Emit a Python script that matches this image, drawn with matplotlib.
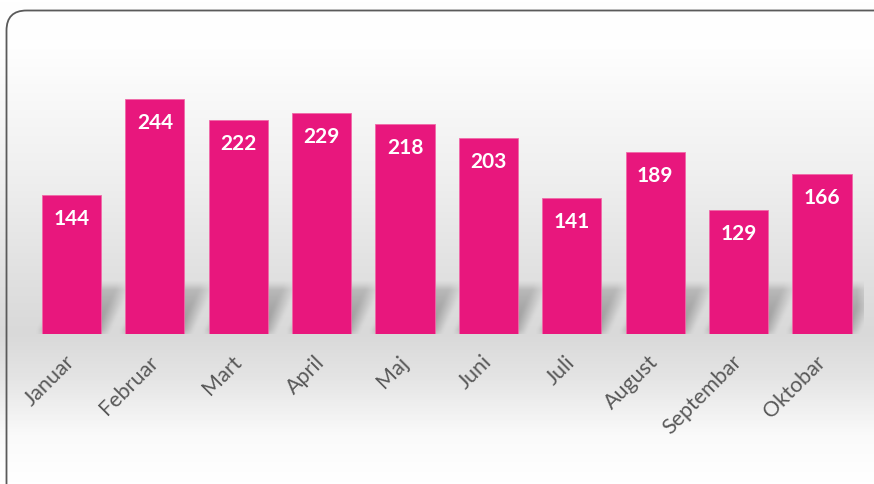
import numpy as np
import matplotlib
matplotlib.use("Agg")
import matplotlib.pyplot as plt
from matplotlib.patches import FancyBboxPatch
from matplotlib.colors import LinearSegmentedColormap

# podaci
mjeseci = ['Januar', 'Februar', 'Mart', 'April', 'Maj', 'Juni', 'Juli', 'August', 'Septembar', 'Oktobar']
vrijednosti = [144, 244, 222, 229, 218, 203, 141, 189, 129, 166]

BOJA = '#E8177D'
SIVA_TEKST = '#595959'
W, H = 874, 484

fig = plt.figure(figsize=(W / 100, H / 100), dpi=100)

# pozadina sa gradijentom i okvirom
bg = fig.add_axes([0, 0, 1, 1])
bg.set_xlim(0, W)
bg.set_ylim(H, 0)
bg.axis('off')
stops = [(0.0, '#ffffff'), (0.10, '#fefefe'), (0.35, '#f0f0f0'),
         (0.58, '#e0e0e0'), (0.69, '#d9d9d9'), (0.78, '#e4e4e4'),
         (0.90, '#fafafa'), (1.0, '#ffffff')]
cmap = LinearSegmentedColormap.from_list('bg', stops)
grad = np.linspace(0, 1, 400).reshape(-1, 1)
bg.imshow(grad, cmap=cmap, aspect='auto', extent=(0, W, H, 0), zorder=0)
okvir = FancyBboxPatch((6.5, 10.5), 920, 500, boxstyle='round,pad=0,rounding_size=20',
                       fill=False, edgecolor='#5a5a5a', linewidth=1.3, zorder=2)
bg.add_patch(okvir)

# graf
ax = fig.add_axes([0.0341, 0.3099, 0.9541, 0.4979])
ax.patch.set_alpha(0)
x = np.arange(len(mjeseci))
sirina = 0.71
ax.set_xlim(-0.5, len(mjeseci) - 0.5)
ax.set_ylim(0, 250)

# sjena iza stubova (zamucen paralelogram)
gx = np.linspace(-0.5, len(mjeseci) - 0.5, 1200)
gy = np.linspace(0, 80, 160)
XX, YY = np.meshgrid(gx, gy)
maska = np.zeros_like(XX)
nagib = 0.28 / 50.0
for xi in x:
    pomak = XX - xi - YY * nagib
    maska += ((np.abs(pomak) <= sirina / 2) & (YY <= 50)).astype(float)
kx = np.ones(21) / 21
ky = np.ones(19) / 19
maska = np.apply_along_axis(lambda r: np.convolve(r, kx, mode='same'), 1, maska)
maska = np.apply_along_axis(lambda c: np.convolve(c, ky, mode='same'), 0, maska)
fade = np.clip(1.0 - YY / 62.0, 0, 1) ** 0.5
alpha = np.clip(maska * fade * 0.75, 0, 1)
sjena = np.zeros(XX.shape + (4,))
sjena[..., :3] = 0.5
sjena[..., 3] = alpha
ax.imshow(sjena, origin='lower', aspect='auto', extent=(gx[0], gx[-1], 0, 80),
          zorder=1, interpolation='bilinear')

bars = ax.bar(x, vrijednosti, width=sirina, color=BOJA, edgecolor='#f06aa8',
              linewidth=0.6, zorder=3)
for b, v in zip(bars, vrijednosti):
    ax.annotate(str(v), (b.get_x() + b.get_width() / 2, v), xytext=(0, -10),
                textcoords='offset points', ha='center', va='top',
                color='white', fontsize=15, fontweight='bold', family='Lato', zorder=4)

ax.set_xticks(x)
ax.set_xticklabels(mjeseci, rotation=45, ha='right', va='center', rotation_mode='anchor',
                   fontsize=15.5, color=SIVA_TEKST, family='Lato')
ax.tick_params(axis='x', length=0, pad=18)
ax.tick_params(axis='y', left=False, labelleft=False)
for s in ax.spines.values():
    s.set_visible(False)

fig.savefig('out.png', dpi=100)
